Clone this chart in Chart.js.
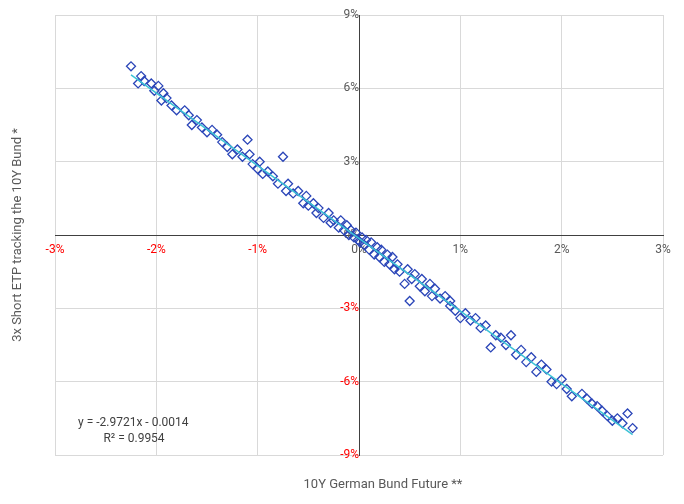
<!DOCTYPE html>
<html>
<head>
<meta charset="utf-8">
<script src="https://cdn.jsdelivr.net/npm/chart.js@4"></script>
<style>
  body { margin: 0; background: #fff; }
  #wrap { width: 684px; height: 504px; position: relative; }
</style>
</head>
<body>
<div id="wrap"><canvas id="c"></canvas></div>
<script>
// daily returns, %
const bundX = [-2.25,-2.18,-2.15,-2.12,-2.05,-2.02,-1.98,-1.95,-1.93,-1.9,-1.85,-1.8,-1.72,-1.68,-1.65,-1.6,-1.55,-1.5,-1.45,-1.4,-1.35,-1.3,-1.25,-1.2,-1.15,-1.1,-1.08,-1.05,-1.0,-0.98,-0.95,-0.9,-0.85,-0.8,-0.75,-0.72,-0.7,-0.65,-0.6,-0.55,-0.52,-0.5,-0.45,-0.42,-0.4,-0.35,-0.3,-0.28,-0.25,-0.2,-0.18,-0.15,-0.12,-0.1,-0.08,-0.05,-0.03,-0.01,0.01,0.03,0.05,0.07,0.1,0.12,0.15,0.18,0.2,0.22,0.25,0.28,0.3,0.33,0.35,0.38,0.4,0.45,0.48,0.5,0.52,0.55,0.6,0.62,0.65,0.7,0.72,0.75,0.8,0.85,0.9,0.9,0.95,1.0,1.05,1.1,1.15,1.2,1.25,1.3,1.35,1.4,1.45,1.5,1.55,1.6,1.65,1.7,1.75,1.8,1.85,1.9,1.95,2.0,2.05,2.1,2.2,2.25,2.3,2.35,2.4,2.45,2.5,2.55,2.6,2.65,2.7];
const etpY = [6.9,6.2,6.5,6.3,6.2,5.9,6.1,5.5,5.8,5.6,5.3,5.1,5.1,4.9,4.5,4.7,4.4,4.2,4.3,4.1,3.8,3.6,3.3,3.5,3.2,3.9,3.3,2.9,2.7,3.0,2.5,2.6,2.4,2.1,3.2,1.8,2.1,1.7,1.8,1.3,1.6,1.2,1.3,0.9,1.1,0.7,0.9,0.5,0.6,0.3,0.6,0.2,0.4,0.0,0.2,-0.1,0.1,-0.2,-0.3,-0.1,-0.4,-0.2,-0.6,-0.3,-0.8,-0.5,-0.9,-0.6,-1.1,-0.8,-1.2,-0.9,-1.4,-1.2,-1.5,-2.0,-1.4,-2.7,-1.8,-1.6,-2.1,-1.8,-2.3,-2.0,-2.5,-2.2,-2.6,-2.5,-2.9,-2.7,-3.1,-3.4,-3.2,-3.5,-3.4,-3.8,-3.7,-4.6,-4.1,-4.2,-4.5,-4.1,-4.9,-4.7,-5.2,-5.0,-5.6,-5.3,-5.5,-6.0,-6.1,-5.9,-6.3,-6.6,-6.5,-6.7,-6.9,-7.0,-7.2,-7.4,-7.6,-7.5,-7.7,-7.3,-7.9];
const slope = -2.9721, intercept = -0.14;
const trendX = [-2.25, 2.7];
const xTicks = [-3, -2, -1, 0, 1, 2, 3];
const yTicks = [-9, -6, -3, 0, 3, 6, 9];

const points = bundX.map((x, i) => ({ x: x, y: etpY[i] }));
const trend = trendX.map(x => ({ x: x, y: slope * x + intercept }));

const labelsPlugin = {
  id: 'labels',
  afterDraw(chart) {
    const ctx = chart.ctx;
    ctx.save();
    ctx.fillStyle = '#595959';
    ctx.font = '13px Roboto, Arial, sans-serif';
    ctx.textAlign = 'center';
    ctx.textBaseline = 'middle';
    ctx.fillText('10Y German Bund Future **', 383, 485);
    ctx.translate(18, 235);
    ctx.rotate(-Math.PI / 2);
    ctx.fillText('3x Short ETP tracking the 10Y Bund *', 0, 0);
    ctx.restore();
    ctx.save();
    ctx.fillStyle = '#404040';
    ctx.font = '12px Roboto, Arial, sans-serif';
    ctx.textBaseline = 'middle';
    ctx.textAlign = 'left';
    ctx.fillText('y = -2.9721x - 0.0014', 78, 423);
    ctx.textAlign = 'center';
    ctx.fillText('R\u00b2 = 0.9954', 134, 439);
    ctx.restore();
  }
};

new Chart(document.getElementById('c'), {
  type: 'scatter',
  data: {
    datasets: [{
      data: points,
      pointStyle: 'rectRot',
      pointRadius: 4.5,
      borderWidth: 1.3,
      borderColor: '#2a45b8',
      backgroundColor: 'rgba(0,0,0,0)',
      order: 2
    }, {
      type: 'line',
      data: trend,
      borderColor: '#3cc3d6',
      borderWidth: 1.5,
      pointRadius: 0,
      order: 1
    }]
  },
  options: {
    responsive: true,
    maintainAspectRatio: false,
    animation: false,
    layout: { padding: { left: 55, right: 21, top: 15, bottom: 49 } },
    plugins: { legend: { display: false }, tooltip: { enabled: false } },
    scales: {
      x: {
        type: 'linear', min: -3, max: 3,
        position: { y: 0 },
        afterBuildTicks: s => { s.ticks = xTicks.map(v => ({ value: v })); },
        grid: { color: '#d9d9d9', drawTicks: false },
        border: { color: '#404040', width: 1 },
        ticks: {
          padding: 8,
          font: { family: 'Roboto, Arial, sans-serif', size: 12 },
          color: c => c.tick.value < 0 ? '#ff0000' : '#595959',
          callback: v => v + '%'
        }
      },
      y: {
        type: 'linear', min: -9, max: 9,
        position: { x: 0 },
        afterBuildTicks: s => { s.ticks = yTicks.map(v => ({ value: v })); },
        grid: { color: '#d9d9d9', drawTicks: false },
        border: { color: '#404040', width: 1 },
        ticks: {
          padding: 6,
          font: { family: 'Roboto, Arial, sans-serif', size: 12 },
          color: c => c.tick.value < 0 ? '#ff0000' : '#595959',
          callback: v => v + '%'
        }
      }
    }
  },
  plugins: [labelsPlugin]
});
</script>
</body>
</html>
